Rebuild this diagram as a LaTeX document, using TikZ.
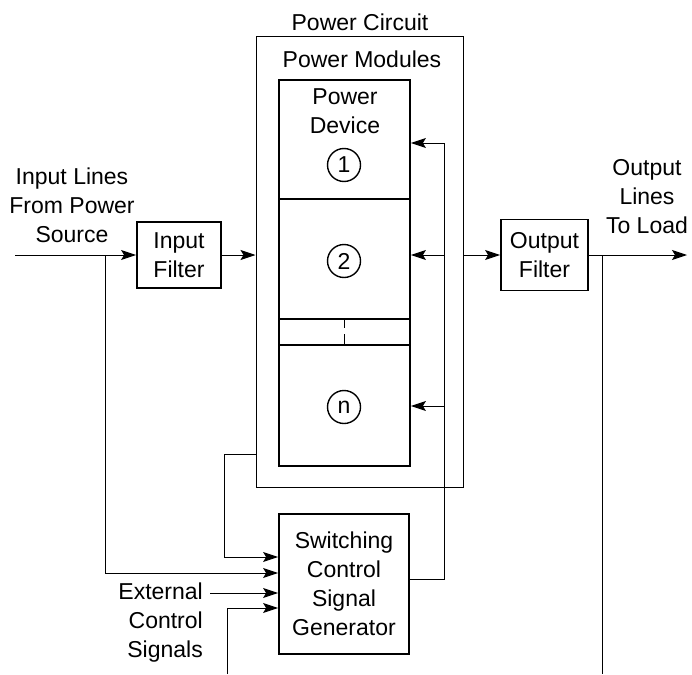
\documentclass[tikz,border=0pt]{standalone}
\usepackage{fontspec}
\setmainfont{Liberation Sans}
\usetikzlibrary{arrows.meta}

\begin{document}
\begin{tikzpicture}[
        x=1pt, y=-1pt,
        >={Stealth[length=15pt,width=10pt,inset=3pt]},
        font=\fontsize{23}{29}\selectfont,
        box/.style={
            rectangle,
            draw=black,
            line width=1.8pt,
            align=center,
            inner sep=0pt
        },
        frame/.style={
            rectangle,
            draw=black,
            line width=1pt
        },
        module/.style={
            rectangle,
            draw=black,
            line width=1.8pt,
            minimum width=131pt,
            inner sep=0pt
        },
        number/.style={
            circle,
            draw=black,
            line width=1.4pt,
            minimum size=33pt,
            inner sep=0pt
        },
        label/.style={
            align=center,
            inner sep=0pt
        },
        wire/.style={
            line width=1pt,
            draw=black
        }
    ]

    \useasboundingbox (0,0) rectangle (692,674);

    % power circuit and its modules
    \node[frame, minimum width=207pt, minimum height=450pt] (circuit) at (359.5,262) {};
    \node[label] (circuittitle) at (360,22) {Power Circuit};
    \node[label] (modulestitle) at (362,59) {Power Modules};

    \node[module, minimum height=119pt] (dev1) at (344.5,139.5) {};
    \node[module, minimum height=120pt] (dev2) at (344.5,259) {};
    \node[module, minimum height=26pt] (gap) at (344.5,332) {};
    \node[module, minimum height=121pt] (devn) at (344.5,405.5) {};
    \draw[line width=1.6pt, dash pattern=on 10pt off 6pt] (gap.north) -- (gap.south);

    \node[label] (devtitle) at (345,111) {Power\\Device};
    \node[number] (num1) at (344,165) {1};
    \node[number] (num2) at (344,261) {2};
    \node[number] (numn) at (344,407) {n};

    % filters and control
    \node[box, minimum width=84pt, minimum height=66pt] (inputfilter) at (179,255)
        {Input\\Filter};
    \node[box, minimum width=87pt, minimum height=71pt] (outputfilter) at (544.5,255)
        {Output\\Filter};
    \node[box, minimum width=130pt, minimum height=140pt] (switching) at (344,584)
        {Switching\\Control\\Signal\\Generator};

    \node[label] (inputlines) at (72,205) {Input Lines\\From Power\\Source};
    \node[label] (outputlines) at (647,197) {Output\\Lines\\To Load};
    \node[label, align=right, anchor=east] (external) at (203,623)
        {External\\Control\\Signals};

    \coordinate (source) at (15,255);
    \coordinate (tapin) at (105,255);
    \coordinate (load) at (687,255);
    \coordinate (tapout) at (602,255);
    \coordinate (tapend) at (602,674);
    \coordinate (loop) at (224,454);
    \coordinate (extin) at (210,593);
    \coordinate (botin) at (227,674);
    \coordinate (bus1) at (444,143);
    \coordinate (bus2) at (444,255);
    \coordinate (busn) at (444,406);

    % power path
    \draw[wire,->] (source) -- (inputfilter.west);
    \draw[wire,->] (inputfilter.east) -- (inputfilter.east -| circuit.west);
    \draw[wire,->] (circuit.east |- outputfilter.west) -- (outputfilter.west);
    \draw[wire,->] (outputfilter.east) -- (load);
    \draw[wire] (tapout) -- (tapend);

    % control inputs
    \draw[wire,->] (loop -| circuit.west) -- (loop) |- ([yshift=27pt]switching.west);
    \draw[wire,->] (tapin) |- ([yshift=11pt]switching.west);
    \draw[wire,->] (extin) -- (extin -| switching.west);
    \draw[wire,->] (botin) |- ([yshift=-24pt]switching.west);

    % gate signals
    \draw[wire,->] ([yshift=5pt]switching.east) -| (bus1) -- (bus1 -| dev1.east);
    \draw[wire,->] (bus2) -- (bus2 -| dev2.east);
    \draw[wire,->] (busn) -- (busn -| devn.east);

\end{tikzpicture}
\end{document}
